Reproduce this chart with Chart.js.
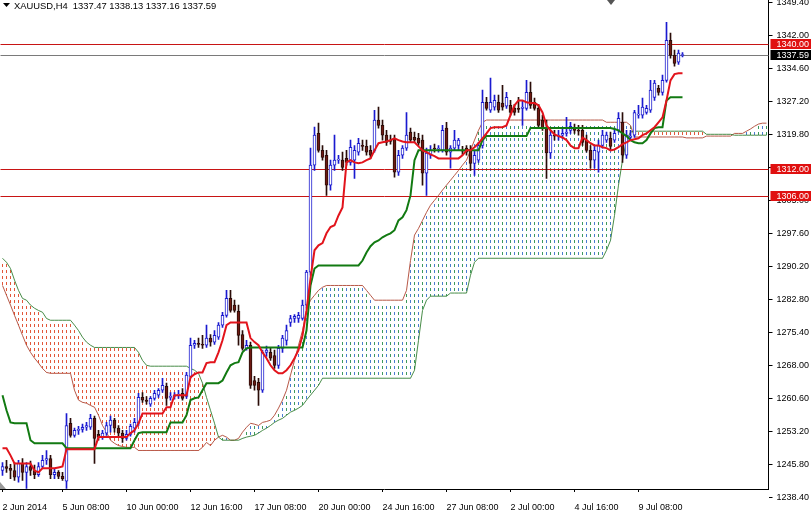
<!DOCTYPE html>
<html>
<head>
<meta charset="utf-8">
<script src="https://cdn.jsdelivr.net/npm/chart.js@4.4.1/dist/chart.umd.min.js"></script>
<style>
  html, body { margin: 0; padding: 0; background: #fff; }
  #wrap { width: 811px; height: 516px; }
</style>
</head>
<body>
<div id="wrap"><canvas id="chart" width="811" height="516"></canvas></div>
<script>
// XAUUSD H4 candles, oldest first
const open = [
  1244.4,1245.3,1244.9,1244.4,1242.9,1246.0,1244.0,1245.3,1244.4,1243.5,
  1245.3,1246.7,1247.1,1243.5,1244.0,1243.1,1242.0,1255.0,1252.3,1253.4,
  1253.6,1254.1,1254.1,1256.1,1252.5,1251.9,1252.8,1254.5,1255.7,1253.9,
  1252.8,1251.6,1252.5,1253.9,1255.0,1260.8,1260.2,1259.3,1260.6,1261.3,
  1262.4,1263.3,1260.8,1261.0,1261.3,1261.7,1261.0,1265.5,1272.5,1272.9,
  1272.7,1272.5,1274.1,1273.2,1274.3,1277.0,1279.2,1283.0,1281.5,1280.1,
  1274.9,1271.8,1272.5,1264.6,1264.2,1262.4,1270.9,1270.9,1270.2,1268.0,
  1271.8,1273.6,1277.6,1278.5,1278.5,1278.5,1281.5,1288.9,1312.9,1320.0,
  1316.2,1315.1,1308.4,1312.9,1314.0,1314.0,1314.4,1313.5,1314.0,1315.8,
  1317.3,1317.1,1316.2,1316.2,1323.0,1321.8,1319.6,1318.5,1318.9,1311.3,
  1315.1,1316.7,1320.3,1319.1,1318.9,1318.5,1311.1,1315.1,1316.7,1316.5,
  1316.2,1321.2,1315.8,1316.7,1317.3,1316.2,1316.7,1316.2,1313.3,1314.0,
  1317.3,1327.0,1325.2,1325.9,1327.0,1326.8,1326.1,1326.3,1325.6,1325.6,
  1325.6,1325.6,1329.2,1327.0,1325.6,1323.0,1321.2,1315.6,1319.6,1319.4,
  1319.6,1320.0,1320.7,1321.2,1320.7,1320.7,1318.5,1316.2,1314.0,1315.8,
  1317.3,1318.5,1318.9,1318.5,1320.7,1322.5,1315.1,1319.1,1319.6,1324.1,
  1324.1,1324.7,1325.2,1328.1,1330.1,1329.2,1331.9,1340.9,1337.5,1336.0,
  1337.47
];
const high = [
  1246.2,1246.7,1245.8,1246.2,1246.7,1247.1,1246.2,1246.5,1245.6,1246.2,
  1247.8,1248.9,1247.8,1244.9,1244.4,1244.0,1257.2,1256.1,1253.9,1254.3,
  1254.8,1255.2,1257.0,1256.6,1253.4,1253.4,1255.2,1256.6,1256.1,1254.5,
  1253.4,1253.4,1254.8,1256.1,1261.7,1261.9,1261.0,1261.0,1262.4,1262.8,
  1265.1,1264.0,1261.9,1261.9,1262.4,1262.8,1266.4,1274.1,1273.6,1274.1,
  1274.7,1277.0,1274.9,1275.8,1277.6,1279.9,1284.8,1284.8,1282.6,1281.5,
  1275.8,1273.6,1273.2,1265.5,1265.1,1271.4,1272.3,1271.8,1271.4,1272.5,
  1274.7,1277.0,1279.2,1279.4,1279.9,1282.6,1289.3,1316.7,1321.4,1322.3,
  1317.3,1316.2,1314.0,1319.6,1315.1,1315.8,1316.2,1318.5,1317.3,1318.9,
  1318.5,1318.5,1317.3,1325.2,1325.9,1323.0,1320.7,1319.6,1319.6,1316.2,
  1317.3,1324.7,1321.2,1320.3,1320.0,1319.6,1316.7,1317.3,1317.6,1317.3,
  1321.8,1322.5,1317.3,1320.7,1318.9,1317.1,1317.3,1317.3,1316.2,1318.0,
  1329.7,1328.1,1332.4,1328.6,1328.6,1330.8,1329.2,1327.4,1326.5,1328.1,
  1327.4,1331.9,1331.5,1327.9,1326.5,1324.1,1323.0,1320.7,1320.7,1320.7,
  1321.2,1323.6,1322.5,1322.1,1321.8,1321.8,1319.6,1317.3,1317.3,1318.5,
  1320.7,1320.3,1320.3,1321.2,1324.7,1324.7,1320.7,1320.7,1325.2,1326.3,
  1327.9,1326.3,1331.9,1331.9,1330.8,1333.1,1344.9,1342.5,1338.7,1338.7,
  1338.13
];
const low = [
  1243.3,1244.0,1242.6,1242.2,1241.8,1242.2,1240.4,1243.3,1242.6,1243.1,
  1244.9,1245.8,1242.6,1242.6,1242.6,1242.2,1240.4,1251.9,1251.9,1252.5,
  1253.0,1253.4,1253.6,1246.0,1251.2,1251.4,1252.3,1253.0,1253.0,1252.1,
  1250.7,1251.2,1252.1,1253.0,1254.5,1259.7,1259.3,1258.8,1260.2,1260.8,
  1261.9,1259.0,1260.2,1260.4,1260.6,1260.2,1260.6,1265.1,1271.8,1272.0,
  1271.8,1272.0,1272.3,1272.7,1273.8,1276.5,1278.8,1279.9,1279.9,1272.5,
  1271.4,1271.4,1262.8,1262.4,1259.0,1261.9,1270.0,1269.1,1267.3,1267.3,
  1270.9,1272.5,1276.7,1277.6,1277.6,1278.1,1280.8,1288.2,1311.7,1315.8,
  1314.0,1306.1,1307.3,1311.7,1313.3,1311.7,1312.9,1312.9,1309.9,1315.1,
  1316.2,1315.1,1314.4,1315.8,1321.2,1318.5,1317.3,1317.6,1310.2,1310.6,
  1314.4,1316.2,1318.0,1318.0,1317.3,1308.4,1306.1,1314.4,1315.8,1315.8,
  1315.8,1315.1,1312.2,1316.2,1316.2,1315.3,1315.1,1311.7,1310.6,1313.5,
  1316.7,1325.2,1324.7,1325.2,1324.7,1325.2,1325.6,1324.1,1324.1,1324.7,
  1321.8,1325.2,1325.6,1325.2,1321.2,1320.7,1309.9,1314.4,1318.5,1318.5,
  1318.9,1319.4,1320.0,1320.0,1319.6,1317.3,1315.8,1312.2,1312.2,1311.3,
  1316.7,1318.0,1316.2,1318.0,1320.3,1313.5,1314.4,1318.5,1319.1,1323.4,
  1323.4,1324.3,1324.7,1327.4,1328.6,1328.6,1331.5,1336.9,1335.1,1335.5,
  1337.16
];
const close = [
  1245.3,1244.9,1244.4,1242.9,1246.0,1244.0,1245.3,1244.4,1243.5,1245.3,
  1246.7,1247.1,1243.5,1244.0,1243.1,1242.6,1254.5,1252.3,1253.4,1253.6,
  1254.1,1254.5,1256.1,1251.6,1251.9,1252.8,1254.5,1255.7,1253.9,1252.8,
  1251.6,1252.5,1254.3,1255.2,1260.8,1260.2,1259.9,1260.6,1261.7,1262.4,
  1263.5,1260.6,1261.0,1261.3,1261.5,1260.6,1265.8,1272.5,1272.9,1272.7,
  1272.5,1274.1,1273.2,1274.7,1277.0,1279.2,1283.0,1280.3,1280.3,1274.7,
  1271.8,1272.5,1263.5,1263.5,1262.4,1270.9,1271.4,1269.6,1268.0,1271.8,
  1274.1,1275.8,1278.5,1279.0,1279.2,1281.5,1288.9,1312.9,1319.6,1316.2,
  1314.6,1308.4,1312.9,1314.0,1314.2,1312.4,1313.5,1316.9,1316.2,1317.8,
  1317.1,1315.8,1315.1,1323.0,1321.8,1319.6,1318.0,1318.2,1311.3,1315.1,
  1316.7,1319.6,1318.5,1318.5,1317.8,1311.1,1315.6,1316.2,1316.5,1316.7,
  1320.7,1315.8,1316.7,1318.5,1318.5,1316.0,1315.8,1313.3,1315.1,1317.3,
  1327.0,1325.6,1327.0,1327.4,1325.2,1325.9,1328.1,1324.7,1324.7,1325.4,
  1325.9,1329.2,1326.3,1325.6,1321.8,1321.2,1315.6,1319.6,1319.4,1319.6,
  1320.0,1320.3,1321.6,1320.7,1320.5,1318.0,1316.2,1314.0,1316.2,1317.3,
  1319.6,1319.6,1317.1,1320.0,1323.4,1315.1,1319.6,1319.4,1324.7,1324.3,
  1325.9,1325.6,1329.7,1331.3,1329.2,1331.9,1340.9,1337.5,1335.7,1338.0,
  1337.59
];

// Ichimoku lines
const tenkan = [
  1249.4,1249.4,1247.8,1246.0,1246.0,1246.0,1246.0,1246.0,1244.4,1244.0,
  1244.9,1244.9,1244.9,1244.9,1245.1,1245.3,1249.2,1249.2,1249.2,1249.2,
  1249.2,1249.2,1249.2,1249.2,1251.9,1251.9,1251.9,1251.9,1251.9,1251.9,
  1251.9,1251.9,1252.8,1253.4,1255.0,1257.2,1257.2,1257.2,1257.2,1257.2,
  1257.2,1258.6,1258.6,1261.3,1261.3,1261.3,1261.3,1265.3,1266.0,1266.4,
  1266.4,1268.5,1268.7,1268.7,1270.9,1273.6,1277.0,1277.6,1277.6,1277.6,
  1277.6,1277.6,1274.1,1273.2,1272.5,1270.9,1269.6,1268.0,1266.9,1266.2,
  1266.2,1266.9,1268.0,1269.6,1271.4,1274.7,1280.3,1287.5,1293.8,1294.9,
  1295.4,1297.6,1299.0,1299.4,1301.6,1303.4,1313.5,1314.0,1313.5,1313.3,
  1313.5,1314.0,1314.4,1316.2,1317.8,1318.0,1318.2,1318.5,1318.9,1318.5,
  1318.2,1318.0,1318.0,1318.0,1317.1,1316.2,1315.8,1315.3,1314.9,1314.4,
  1314.4,1314.4,1314.4,1314.4,1314.4,1315.1,1316.2,1316.2,1316.9,1317.8,
  1318.9,1320.0,1321.2,1321.4,1321.4,1321.4,1321.8,1324.1,1326.3,1327.4,
  1327.4,1327.0,1326.8,1326.8,1326.3,1324.7,1321.8,1320.7,1319.8,1319.4,
  1319.1,1318.5,1317.3,1316.7,1316.7,1319.1,1318.5,1317.8,1317.3,1317.3,
  1316.9,1316.7,1316.2,1316.4,1316.9,1317.6,1318.0,1318.5,1318.7,1318.9,
  1319.6,1320.0,1320.7,1321.4,1322.5,1323.6,1327.4,1331.9,1333.3,1333.5,
  1333.5
];
const kijun = [
  1261.3,1257.9,1255.2,1255.0,1255.0,1255.0,1255.0,1251.2,1250.5,1250.5,
  1250.5,1250.5,1250.5,1250.5,1250.5,1250.5,1249.4,1249.4,1249.4,1249.4,
  1249.4,1249.4,1249.4,1249.4,1249.4,1249.4,1249.4,1249.4,1249.4,1249.4,
  1249.4,1249.4,1249.4,1251.2,1252.8,1253.0,1253.0,1253.0,1253.0,1253.0,
  1253.0,1253.0,1255.2,1255.2,1255.2,1255.2,1256.8,1260.2,1260.6,1260.8,
  1262.4,1264.0,1264.0,1264.0,1264.0,1264.6,1266.4,1268.0,1268.5,1268.7,
  1270.9,1271.8,1272.0,1272.0,1272.0,1272.0,1272.0,1272.0,1272.0,1272.0,
  1272.0,1272.0,1272.0,1272.0,1272.0,1272.0,1275.8,1285.9,1289.7,1290.4,
  1290.4,1290.4,1290.4,1290.4,1290.4,1290.4,1290.4,1290.4,1290.4,1290.4,
  1291.5,1293.3,1294.7,1295.6,1296.0,1296.7,1297.2,1297.6,1298.3,1300.5,
  1301.2,1302.8,1306.1,1314.0,1316.2,1316.2,1316.2,1316.2,1316.2,1316.2,
  1316.2,1316.2,1316.2,1316.2,1316.2,1316.2,1316.2,1316.2,1316.2,1316.2,
  1318.5,1319.4,1319.4,1319.4,1319.4,1319.4,1319.4,1319.4,1319.4,1319.4,
  1319.4,1319.4,1321.2,1321.2,1321.2,1321.2,1321.2,1321.2,1321.2,1321.2,
  1321.2,1321.2,1321.2,1321.2,1321.2,1321.2,1321.2,1321.2,1321.2,1321.2,
  1321.2,1321.2,1321.2,1321.0,1320.7,1320.0,1319.4,1318.5,1318.0,1317.8,
  1317.8,1318.5,1320.0,1321.2,1321.4,1321.4,1327.4,1328.1,1328.1,1328.1,
  1328.1
];
// cloud spans, already shifted forward
const spanA = [
  1285.9,1283.7,1281.5,1279.2,1277.0,1274.7,1272.5,1270.9,1269.6,1268.5,
  1267.3,1266.4,1266.2,1266.2,1266.2,1266.2,1266.2,1266.2,1262.4,1260.2,
  1259.7,1259.5,1259.0,1258.6,1256.8,1254.5,1253.0,1251.2,1250.5,1250.0,
  1249.8,1249.6,1249.6,1249.6,1248.9,1248.9,1248.9,1248.9,1248.9,1248.9,
  1248.9,1248.9,1248.9,1248.9,1248.9,1248.9,1248.9,1248.9,1248.9,1248.9,
  1249.6,1250.7,1250.0,1251.2,1251.9,1252.3,1251.9,1251.2,1251.2,1251.6,
  1253.0,1254.1,1255.0,1254.8,1254.5,1255.2,1255.4,1255.7,1256.8,1258.4,
  1260.2,1262.4,1265.8,1269.1,1272.5,1275.8,1280.3,1282.6,1283.7,1284.8,
  1285.5,1285.9,1285.9,1285.9,1285.9,1285.9,1285.9,1285.9,1285.9,1285.9,
  1285.9,1284.8,1283.7,1282.6,1282.6,1282.6,1282.6,1282.6,1282.6,1282.6,
  1282.6,1284.8,1291.5,1297.2,1298.7,1300.5,1302.3,1303.9,1305.0,1306.1,
  1307.3,1308.4,1309.5,1310.6,1311.7,1312.9,1314.0,1316.2,1318.5,1320.7,
  1322.5,1323.0,1323.0,1323.0,1323.0,1323.0,1323.0,1323.0,1323.0,1323.0,
  1323.0,1323.0,1323.0,1323.0,1323.0,1323.0,1323.0,1323.0,1323.0,1323.0,
  1323.0,1323.0,1323.0,1323.0,1323.0,1323.0,1323.0,1323.0,1323.0,1323.0,
  1323.0,1322.5,1322.5,1322.5,1322.5,1322.5,1322.5,1321.8,1319.2,1319.2,
  1319.2,1319.2,1319.2,1319.2,1319.2,1319.2,1319.2,1319.2,1319.2,1319.2,
  1319.2,1319.0,1319.0,1319.0,1319.0,1319.0,1319.4,1319.4,1319.4,1319.4,
  1319.4,1319.4,1319.4,1320.0,1320.0,1320.0,1320.5,1321.0,1321.6,1322.1,
  1322.3,1322.3
];
const spanB = [
  1292.0,1291.1,1289.7,1287.1,1284.8,1283.0,1282.6,1281.5,1280.8,1280.3,
  1279.9,1278.5,1278.1,1278.1,1278.1,1278.1,1278.1,1278.1,1277.0,1275.8,
  1274.3,1273.2,1272.5,1272.0,1272.0,1272.0,1272.0,1272.0,1272.0,1272.0,
  1272.0,1272.0,1272.0,1272.0,1270.9,1269.1,1268.0,1267.8,1267.8,1267.8,
  1267.8,1267.8,1267.8,1267.8,1267.8,1267.8,1267.8,1267.3,1266.9,1266.2,
  1264.0,1260.8,1257.9,1255.0,1251.9,1251.2,1251.2,1251.2,1251.2,1251.2,
  1251.6,1251.9,1252.1,1252.3,1252.8,1253.4,1253.9,1254.5,1255.2,1255.7,
  1256.1,1256.8,1257.5,1257.9,1258.4,1259.0,1260.2,1261.3,1262.4,1263.5,
  1265.1,1265.1,1265.1,1265.1,1265.1,1265.1,1265.1,1265.1,1265.1,1265.1,
  1265.1,1265.1,1265.1,1265.1,1265.1,1265.1,1265.1,1265.1,1265.1,1265.1,
  1265.1,1265.1,1265.1,1266.9,1273.6,1280.3,1282.6,1283.5,1283.5,1283.5,
  1283.5,1283.5,1284.2,1284.2,1284.2,1284.2,1284.2,1288.2,1291.1,1292.0,
  1292.0,1292.0,1292.0,1292.0,1292.0,1292.0,1292.0,1292.0,1292.0,1292.0,
  1292.0,1292.0,1292.0,1292.0,1292.0,1292.0,1292.0,1292.0,1292.0,1292.0,
  1292.0,1292.0,1292.0,1292.0,1292.0,1292.0,1292.0,1292.0,1292.0,1292.0,
  1292.0,1293.8,1296.0,1301.6,1308.4,1314.0,1318.5,1320.3,1320.5,1320.5,
  1320.5,1320.5,1320.5,1320.5,1320.5,1320.5,1320.5,1320.5,1320.5,1320.5,
  1320.5,1320.5,1320.5,1320.5,1320.5,1320.5,1319.8,1319.8,1319.8,1319.8,
  1319.8,1319.8,1319.8,1319.6,1319.6,1319.6,1319.6,1319.6,1319.6,1319.6,
  1319.6,1319.6
];

// axes
const barCount = 192;
const tickBars = [0, 15, 31, 47, 63, 79, 95, 111, 127, 143, 159];
const tickTexts = ["2 Jun 2014", "5 Jun 08:00", "10 Jun 00:00", "12 Jun 16:00", "17 Jun 08:00",
  "20 Jun 00:00", "24 Jun 16:00", "27 Jun 08:00", "2 Jul 00:00", "4 Jul 16:00", "9 Jul 08:00"];
const yTicks = [1238.4, 1245.8, 1253.2, 1260.6, 1268.0, 1275.4, 1282.8, 1290.2, 1297.6,
  1305.0, 1312.4, 1319.8, 1327.2, 1334.6, 1342.0, 1349.4];

// horizontal levels
const levelLines = [1340.0, 1312.0, 1306.0];
const lastPrice = 1337.59;
const header = "XAUUSD,H4  1337.47 1338.13 1337.16 1337.59";

const UP = "#1a1ad0";
const DOWN = "#6e1a12";
const WICK_DOWN = "#2a0c08";
const BEAR_DOT = "#e2573a";
const BULL_DOTS = ["#4a7cd0", "#3f9a5c"];
const FONT = "Liberation Sans";

const labels = Array.from({ length: barCount }, (_, i) => i);
const isUp = open.map((o, i) => close[i] >= o);

// dotted histogram between the two spans, one column per bar
const cloudHatch = {
  id: "cloudHatch",
  beforeDatasetsDraw(chart) {
    const { ctx, chartArea: a, scales: { x, y } } = chart;
    ctx.save();
    ctx.beginPath();
    ctx.rect(a.left, a.top, a.right - a.left, a.bottom - a.top);
    ctx.clip();
    for (let i = 0; i < spanA.length; i++) {
      const px = Math.floor(x.getPixelForValue(i));
      const ya = y.getPixelForValue(spanA[i]);
      const yb = y.getPixelForValue(spanB[i]);
      const top = Math.min(ya, yb);
      const bot = Math.max(ya, yb);
      ctx.fillStyle = ya < yb ? BULL_DOTS[i % 2] : BEAR_DOT;
      for (let yy = Math.ceil(top / 6) * 6; yy < bot; yy += 6) {
        ctx.fillRect(px, yy, 1, Math.min(3, bot - yy));
      }
    }
    ctx.restore();
  },
};

const overlay = {
  id: "overlay",
  beforeDatasetsDraw(chart) {
    const { ctx, chartArea: a, scales: { y } } = chart;
    ctx.save();
    ctx.lineWidth = 1;
    ctx.strokeStyle = "#c81414";
    levelLines.forEach((v) => {
      const py = Math.round(y.getPixelForValue(v)) + 0.5;
      ctx.beginPath();
      ctx.moveTo(a.left, py);
      ctx.lineTo(a.right, py);
      ctx.stroke();
    });
    const lp = Math.round(y.getPixelForValue(lastPrice)) + 0.5;
    ctx.strokeStyle = "#7a7a7a";
    ctx.beginPath();
    ctx.moveTo(a.left, lp);
    ctx.lineTo(a.right, lp);
    ctx.stroke();
    ctx.restore();
  },
  afterDraw(chart) {
    const { ctx, chartArea: a, scales: { y } } = chart;
    ctx.save();
    ctx.font = `9px "${FONT}"`;
    ctx.textBaseline = "middle";
    const box = (v, bg) => {
      const py = Math.round(y.getPixelForValue(v));
      ctx.fillStyle = bg;
      ctx.fillRect(a.right + 2, py - 5, 811 - a.right, 10);
      ctx.fillStyle = "#fff";
      ctx.fillText(v.toFixed(2), a.right + 8, py + 0.5);
    };
    levelLines.forEach((v) => box(v, "#e01010"));
    box(lastPrice, "#000");

    // header line
    ctx.fillStyle = "#000";
    ctx.beginPath();
    ctx.moveTo(3, 3);
    ctx.lineTo(10, 3);
    ctx.lineTo(6.5, 7);
    ctx.closePath();
    ctx.fill();
    ctx.font = `9.4px "${FONT}"`;
    ctx.fillText(header, 14, 6);

    // chart shift marker and scroll marker
    ctx.fillStyle = "#555";
    ctx.beginPath();
    ctx.moveTo(607, 0);
    ctx.lineTo(615, 0);
    ctx.lineTo(611, 5);
    ctx.closePath();
    ctx.fill();
    ctx.fillStyle = "#999";
    ctx.beginPath();
    ctx.moveTo(0, 482);
    ctx.lineTo(6, 489);
    ctx.lineTo(0, 489);
    ctx.closePath();
    ctx.fill();
    ctx.restore();
  },
};

new Chart(document.getElementById("chart"), {
  type: "bar",
  data: {
    labels,
    datasets: [
      {
        type: "line",
        label: "Senkou A",
        data: spanA,
        borderColor: "rgba(170,60,40,0.85)",
        borderWidth: 1,
        pointRadius: 0,
        fill: false,
        order: 6,
      },
      {
        type: "line",
        label: "Senkou B",
        data: spanB,
        borderColor: "rgba(40,120,40,0.85)",
        borderWidth: 1,
        pointRadius: 0,
        fill: false,
        order: 5,
      },
      {
        label: "wick",
        data: low.map((l, i) => [l, high[i]]),
        backgroundColor: isUp.map((u) => (u ? UP : WICK_DOWN)),
        barThickness: 1,
        grouped: false,
        order: 4,
      },
      {
        label: "body",
        data: open.map((o, i) => [o, close[i]]),
        backgroundColor: isUp.map((u) => (u ? "#fff" : DOWN)),
        borderColor: isUp.map((u) => (u ? UP : WICK_DOWN)),
        borderWidth: 1,
        borderSkipped: false,
        barThickness: 3,
        minBarLength: 1,
        grouped: false,
        order: 3,
      },
      {
        type: "line",
        label: "Kijun",
        data: kijun,
        borderColor: "#127a12",
        borderWidth: 2,
        pointRadius: 0,
        fill: false,
        order: 2,
      },
      {
        type: "line",
        label: "Tenkan",
        data: tenkan,
        borderColor: "#e2141c",
        borderWidth: 2,
        pointRadius: 0,
        fill: false,
        order: 1,
      },
    ],
  },
  options: {
    responsive: false,
    animation: false,
    devicePixelRatio: 1,
    layout: { padding: { left: 0.5, top: 0, right: 0, bottom: 0 } },
    plugins: { legend: { display: false }, tooltip: { enabled: false } },
    scales: {
      x: {
        type: "category",
        offset: true,
        border: { display: true, color: "#000" },
        grid: {
          drawOnChartArea: false,
          offset: false,
          tickLength: 3,
          color: (c) => (tickBars.includes(c.index) ? "#000" : "rgba(0,0,0,0)"),
        },
        ticks: {
          autoSkip: false,
          maxRotation: 0,
          minRotation: 0,
          align: "start",
          padding: 10,
          color: "#000",
          font: { family: FONT, size: 9 },
          callback: (v, i) => {
            const k = tickBars.indexOf(i);
            return k >= 0 ? tickTexts[k] : "";
          },
        },
        afterFit: (s) => {
          s.height = 27;
          s.paddingLeft = 0;
          s.paddingRight = 0;
        },
      },
      y: {
        position: "right",
        min: 1240.26,
        max: 1349.92,
        afterBuildTicks: (s) => {
          s.ticks = yTicks.map((v) => ({ value: v }));
        },
        border: { display: true, color: "#000" },
        grid: { drawOnChartArea: false, tickLength: 4, color: "#000" },
        ticks: {
          padding: 4,
          color: "#000",
          font: { family: FONT, size: 9 },
          callback: (v) => Number(v).toFixed(2),
        },
        afterFit: (s) => {
          s.width = 42.5;
          s.paddingTop = 0;
          s.paddingBottom = 0;
        },
      },
    },
  },
  plugins: [cloudHatch, overlay],
});
</script>
</body>
</html>
